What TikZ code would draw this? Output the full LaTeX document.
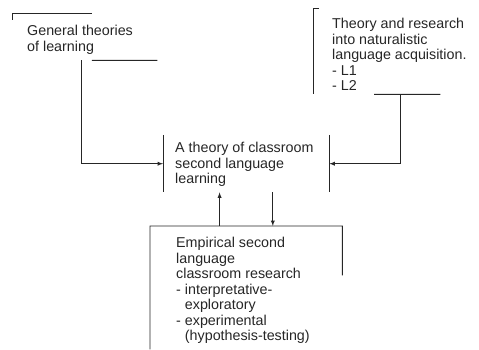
\documentclass[tikz,border=0pt]{standalone}
\usepackage{fontspec}
\setmainfont{Liberation Sans}
\usetikzlibrary{calc}

\begin{document}
\begin{tikzpicture}[x=1pt,y=-1pt,
    frame/.style={inner sep=0pt,anchor=north west},
    txt/.style={inner sep=0pt,anchor=north west,align=left,font=\fontsize{14.3}{15.5}\selectfont,text=black!85},
    edge/.style={line width=0.9pt,black!85},
    arr/.style={edge,-latex}]
  \useasboundingbox (0,0) rectangle (479,350);

  % frames
  \node[frame,minimum width=145pt,minimum height=47pt] (gen) at (12,13) {};
  \node[frame,minimum width=127pt,minimum height=86pt] (nat) at (313,8) {};
  \node[frame,minimum width=166pt,minimum height=57pt] (theo) at (163,135) {};
  \node[frame,minimum width=192pt,minimum height=123pt] (emp) at (150,226) {};

  % texts
  \node[txt] (gent) at ($(gen.north west)+(15,12)$) {General theories\\of learning};
  \node[txt] (natt) at ($(nat.north west)+(19,10)$) {Theory and research\\into naturalistic\\language acquisition.\\- L1\\- L2};
  \node[txt] (theot) at ($(theo.north west)+(12,7)$) {A theory of classroom\\second language\\learning};
  \node[txt] (empt) at ($(emp.north west)+(26,11)$) {Empirical second\\language\\classroom research\\- interpretative-\\\phantom{- }exploratory\\- experimental\\\phantom{- }(hypothesis-testing)};

  % what is left of the box edges
  \draw[edge] ([yshift=-7pt]gen.north west) -- (gen.north west) -- ($(gen.north west)!0.55!(gen.north east)$);
  \draw[edge] ($(gen.south west)!0.55!(gen.south east)$) -- (gen.south east);
  \draw[edge] ([xshift=6pt]nat.north west) -- (nat.north west) -- (nat.south west);
  \draw[edge] ($(nat.south west)!0.48!(nat.south east)$) -- (nat.south east);
  \draw[edge] (theo.north west) -- (theo.south west);
  \draw[edge] (theo.north east) -- (theo.south east);
  \draw[edge] (emp.south west) -- (emp.north west) -- (emp.north east) -- ($(emp.north east)!0.4!(emp.south east)$);

  % connectors
  \coordinate (gb) at ($(gen.south west)!0.476!(gen.south east)$);
  \coordinate (nb) at ($(nat.south west)!0.685!(nat.south east)$);
  \coordinate (tu) at ($(theo.south west)!0.34!(theo.south east)$);
  \coordinate (td) at ($(theo.south west)!0.66!(theo.south east)$);
  \draw[arr] (gb) |- (theo.west);
  \draw[arr] (nb) |- (theo.east);
  \draw[arr] (tu |- emp.north) -- (tu);
  \draw[arr] (td) -- (td |- emp.north);
\end{tikzpicture}
\end{document}
